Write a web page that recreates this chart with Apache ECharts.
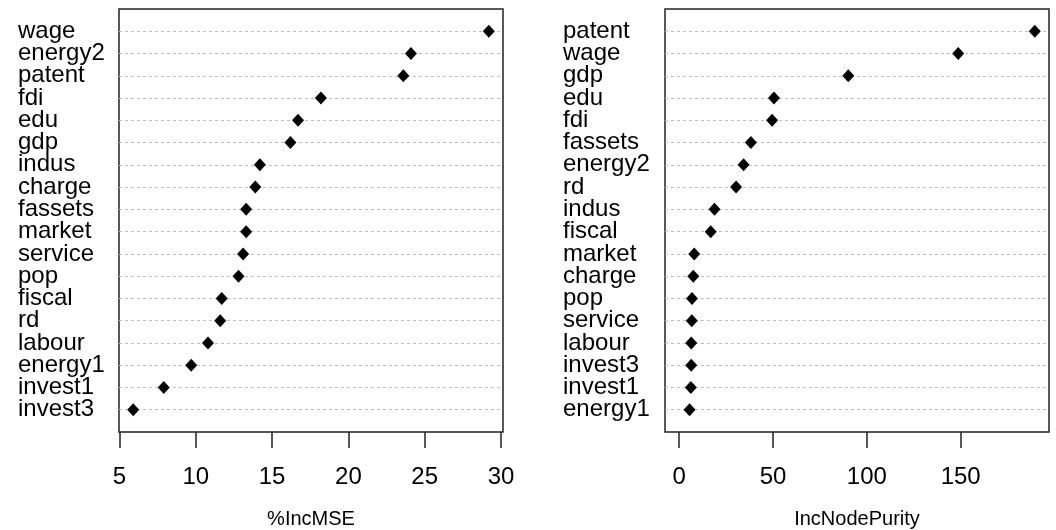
<!DOCTYPE html>
<html>
<head>
<meta charset="utf-8">
<script src="https://cdn.jsdelivr.net/npm/echarts@6/dist/echarts.min.js"></script>
<style>html,body{margin:0;padding:0;background:#fff}#c{width:1056px;height:530px}</style>
</head>
<body>
<div id="c"></div>
<script>
// Left panel: %IncMSE (top to bottom)
const mseNames = ['wage','energy2','patent','fdi','edu','gdp','indus','charge','fassets','market','service','pop','fiscal','rd','labour','energy1','invest1','invest3'];
const mseValues = [29.2,24.1,23.6,18.2,16.7,16.2,14.2,13.9,13.3,13.3,13.1,12.8,11.7,11.6,10.8,9.7,7.9,5.9];
const mseTicks = [5,10,15,20,25,30];
const mseTitle = '%IncMSE';

// Right panel: IncNodePurity (top to bottom)
const purNames = ['patent','wage','gdp','edu','fdi','fassets','energy2','rd','indus','fiscal','market','charge','pop','service','labour','invest3','invest1','energy1'];
const purValues = [189.5,148.7,90.1,50.5,49.5,38.2,34.3,30.3,18.8,16.8,8.0,7.5,6.8,6.7,6.4,6.4,6.2,5.5];
const purTicks = [0,50,100,150];
const purTitle = 'IncNodePurity';

const FONT = '"Liberation Sans",Arial,sans-serif';

function panel(idx, names, values, ticks, title, lo, hi) {
  const n = names.length;
  const xAxis = {
    gridIndex: idx, type: 'value', min: lo, max: hi,
    name: title, nameLocation: 'middle', nameGap: 77,
    nameTextStyle: {fontFamily: FONT, fontSize: 20, color: '#000'},
    axisLine: {show: false},
    axisTick: {show: true, length: 16, inside: false, customValues: ticks, lineStyle: {color: '#222', width: 1.5}},
    axisLabel: {show: true, customValues: ticks, margin: 33, fontFamily: FONT, fontSize: 24, color: '#000'},
    splitLine: {show: false}
  };
  const yAxis = {
    gridIndex: idx, type: 'value', min: 0, max: n + 1, interval: 1,
    axisLine: {show: false}, axisTick: {show: false},
    axisLabel: {
      show: true, align: 'left', margin: idx === 0 ? 101 : 102,
      fontFamily: FONT, fontSize: 24, color: '#000',
      formatter: v => (v >= 1 && v <= n) ? names[n - v] : ''
    },
    splitLine: {show: true, showMinLine: false, showMaxLine: false, lineStyle: {color: '#bebebe', type: [3, 3], width: 1}}
  };
  const series = {
    type: 'scatter', xAxisIndex: idx, yAxisIndex: idx,
    symbol: 'diamond', symbolSize: [12, 13],
    itemStyle: {color: '#000', opacity: 1},
    data: values.map((v, i) => [v, n - i]),
    z: 5
  };
  return {xAxis, yAxis, series};
}

function expand(vals, fromZero) {
  let mn = Math.min(...vals), mx = Math.max(...vals);
  if (fromZero) mn = 0;
  const r = mx - mn;
  return [mn - 0.04 * r, mx + 0.04 * r];
}

const L = expand(mseValues, false);
const R = expand(purValues, true);
const p0 = panel(0, mseNames, mseValues, mseTicks, mseTitle, L[0], L[1]);
const p1 = panel(1, purNames, purValues, purTicks, purTitle, R[0], R[1]);

const chart = echarts.init(document.getElementById('c'), null, {renderer: 'canvas'});
chart.setOption({
  animation: false,
  backgroundColor: '#fff',
  grid: [
    {left: 119, top: 9, width: 384, height: 423, show: true, borderColor: '#222', borderWidth: 1.5, backgroundColor: 'transparent', containLabel: false, outerBoundsMode: 'none'},
    {left: 665, top: 9, width: 384, height: 423, show: true, borderColor: '#222', borderWidth: 1.5, backgroundColor: 'transparent', containLabel: false, outerBoundsMode: 'none'}
  ],
  xAxis: [p0.xAxis, p1.xAxis],
  yAxis: [p0.yAxis, p1.yAxis],
  series: [p0.series, p1.series]
});
</script>
</body>
</html>
